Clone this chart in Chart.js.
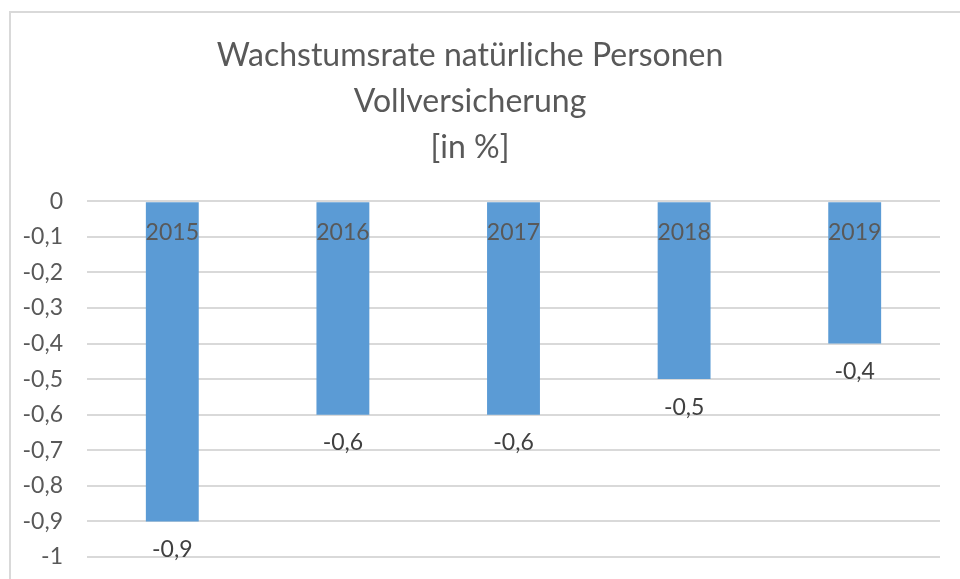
<!DOCTYPE html>
<html>
<head>
<meta charset="utf-8">
<script src="https://cdn.jsdelivr.net/npm/chart.js@4/dist/chart.umd.min.js"></script>
<style>
    html, body { margin: 0; padding: 0; background: #fff; overflow: hidden; }
    .frame {
        position: absolute; left: 9px; top: 11px; width: 1000px; height: 1000px;
        border: 2px solid #d9d9d9; box-sizing: border-box;
    }
    .wrap { position: absolute; left: 0; top: 0; width: 960px; height: 579px; }
</style>
</head>
<body>
<div class="frame"></div>
<div class="wrap"><canvas id="chart" width="960" height="579"></canvas></div>
<script>
const years = ['2015', '2016', '2017', '2018', '2019'];
const growthRates = [-0.9, -0.6, -0.6, -0.5, -0.4];
const titleLines = ['Wachstumsrate natürliche Personen', 'Vollversicherung', '[in %]'];

const fmt = v => String(Math.round(v * 10) / 10).replace('.', ',');

// category labels just under the zero line, value labels under each bar end
const barLabels = {
    id: 'barLabels',
    afterDatasetsDraw(chart) {
        const ctx = chart.ctx;
        const xScale = chart.scales.x;
        const zeroY = chart.scales.y.getPixelForValue(0);
        const meta = chart.getDatasetMeta(0);
        ctx.save();
        ctx.font = '23px Lato';
        ctx.textAlign = 'center';
        ctx.textBaseline = 'middle';
        ctx.fillStyle = '#595959';
        years.forEach((year, i) => {
            ctx.fillText(year, xScale.getPixelForValue(i), zeroY + 31);
        });
        ctx.fillStyle = '#404040';
        meta.data.forEach((bar, i) => {
            ctx.fillText(fmt(growthRates[i]), bar.x, bar.y + 28);
        });
        ctx.restore();
    }
};

new Chart(document.getElementById('chart'), {
    type: 'bar',
    data: {
        labels: years,
        datasets: [{
            data: growthRates,
            backgroundColor: '#5b9bd5',
            barPercentage: 0.31,
            categoryPercentage: 1
        }]
    },
    options: {
        responsive: false,
        animation: false,
        layout: { padding: { left: 0, right: 20, top: 0, bottom: 0 } },
        plugins: {
            legend: { display: false },
            tooltip: { enabled: false },
            title: {
                display: true,
                text: titleLines,
                color: '#595959',
                font: { family: 'Lato', size: 32, weight: 'normal', lineHeight: 1.45 },
                padding: { top: 32, bottom: 30 }
            }
        },
        scales: {
            x: {
                display: false
            },
            y: {
                min: -1,
                max: 0,
                ticks: {
                    stepSize: 0.1,
                    color: '#595959',
                    font: { family: 'Lato', size: 23 },
                    padding: 24,
                    callback: v => fmt(v)
                },
                grid: { color: '#d9d9d9', lineWidth: 2, drawTicks: false },
                border: { display: false },
                afterFit: s => {
                    s.width = 87;
                    s.paddingBottom = 22;
                }
            }
        }
    },
    plugins: [barLabels]
});
</script>
</body>
</html>
